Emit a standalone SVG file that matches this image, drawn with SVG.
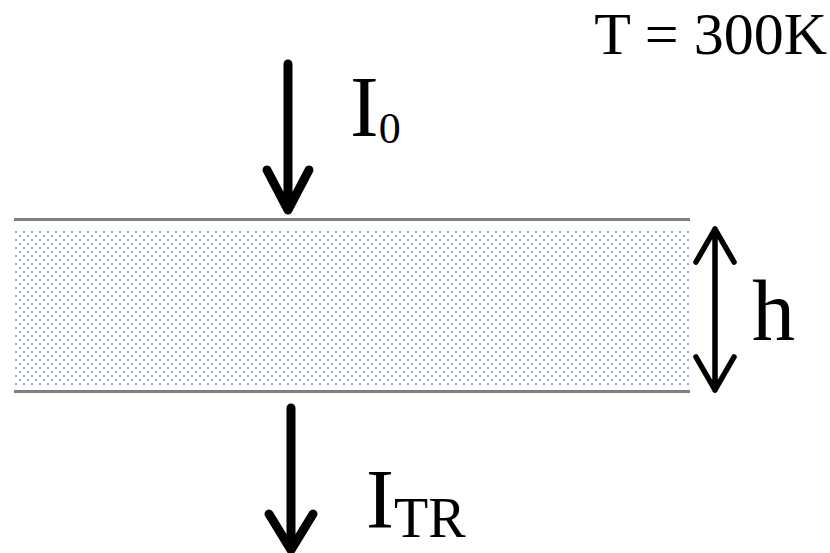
<svg xmlns="http://www.w3.org/2000/svg" width="830" height="553" viewBox="0 0 830 553">
<style>
.t{font-family:"Liberation Serif","Times New Roman",serif;fill:#000}
.arr{fill:none;stroke:#000;stroke-linecap:round;stroke-linejoin:round}
.edge{stroke:#808080;stroke-width:3}
</style>
<defs>
<pattern id="dots" x="15" y="231" width="8" height="8" patternUnits="userSpaceOnUse">
<rect x="0" y="0" width="2" height="2" fill="#8aaee2"/>
<rect x="4" y="4" width="2" height="2" fill="#8aaee2"/>
</pattern>
</defs>
<g id="layer">
<rect x="14" y="229" width="676" height="156" fill="url(#dots)"/>
<line class="edge" x1="14" y1="219.5" x2="690" y2="219.5"/>
<line class="edge" x1="14" y1="391.5" x2="690" y2="391.5"/>
</g>
<g id="connectors">
<path class="arr" stroke-width="9" d="M288 64V210M267 170L288 210L309 170"/>
<path class="arr" stroke-width="9" d="M291 408V550M269 514L291 550L313 514"/>
<path class="arr" stroke-width="5.5" d="M715 229V390M696 262L715 229L734 262M696 357L715 390L734 357"/>
</g>
<g id="label-I0"><text class="t" x="350" y="136" font-size="86">I<tspan font-size="44" dy="7">0</tspan></text></g>
<g id="label-ITR"><text class="t" x="366" y="528" font-size="84">I<tspan font-size="56" dy="9">TR</tspan></text></g>
<g id="label-h"><text class="t" x="752" y="340" font-size="86">h</text></g>
<g id="label-T"><text class="t" x="827" y="54" font-size="60" text-anchor="end">T = 300K</text></g>
</svg>
